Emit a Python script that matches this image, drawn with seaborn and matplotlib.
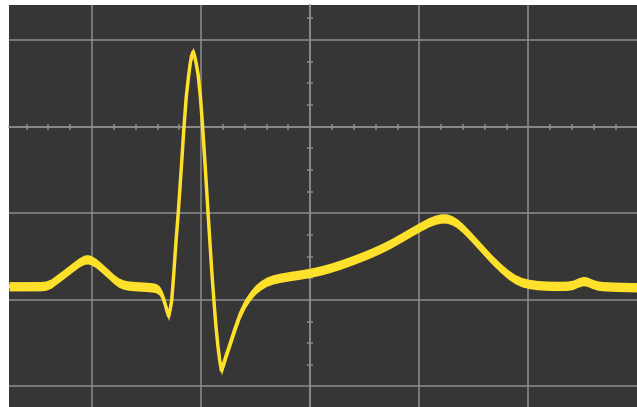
import matplotlib
matplotlib.use("Agg")
import matplotlib.pyplot as plt
from matplotlib.ticker import MultipleLocator, NullFormatter
import pandas as pd
import seaborn as sns

# ECG trace sampled on the scope graticule (units: screen divisions)
t_div = [-2.762, -2.615, -2.478, -2.422, -2.376, -2.331, -2.275, -2.220,
         -2.165, -2.119, -2.073, -2.043, -2.009, -1.963, -1.917, -1.862,
         -1.807, -1.761, -1.715, -1.669, -1.605, -1.513, -1.449, -1.412,
         -1.385, -1.362, -1.343, -1.325, -1.311, -1.299, -1.284, -1.270,
         -1.253, -1.232, -1.210, -1.183, -1.158, -1.137, -1.118, -1.103,
         -1.089, -1.075, -1.061, -1.045, -1.028, -1.008, -0.987, -0.962,
         -0.937, -0.904, -0.884, -0.866, -0.848, -0.831, -0.815, -0.797,
         -0.770, -0.733, -0.687, -0.641, -0.595, -0.549, -0.503, -0.457,
         -0.402, -0.338, -0.274, -0.182, -0.090, 0.002, 0.094, 0.186,
         0.278, 0.369, 0.461, 0.553, 0.645, 0.737, 0.828, 0.920,
         1.012, 1.085, 1.150, 1.205, 1.251, 1.297, 1.343, 1.398,
         1.471, 1.563, 1.655, 1.747, 1.811, 1.875, 1.939, 2.004,
         2.086, 2.178, 2.270, 2.353, 2.408, 2.454, 2.500, 2.536,
         2.582, 2.628, 2.683, 2.803, 3.005]
v_div = [-1.843, -1.843, -1.842, -1.835, -1.811, -1.768, -1.716, -1.663,
         -1.609, -1.566, -1.537, -1.531, -1.542, -1.577, -1.627, -1.689,
         -1.753, -1.797, -1.823, -1.835, -1.842, -1.849, -1.856, -1.866,
         -1.891, -1.938, -2.001, -2.076, -2.140, -2.186, -2.105, -2.001,
         -1.724, -1.343, -0.985, -0.488, -0.003, 0.343, 0.562, 0.712,
         0.816, 0.863, 0.816, 0.724, 0.597, 0.355, -0.003, -0.488,
         -1.000, -1.655, -2.001, -2.290, -2.521, -2.694, -2.815, -2.746,
         -2.636, -2.498, -2.319, -2.157, -2.036, -1.949, -1.881, -1.833,
         -1.791, -1.762, -1.744, -1.724, -1.707, -1.686, -1.661, -1.629,
         -1.592, -1.551, -1.507, -1.460, -1.408, -1.350, -1.285, -1.218,
         -1.152, -1.104, -1.073, -1.059, -1.061, -1.080, -1.114, -1.173,
         -1.268, -1.395, -1.522, -1.635, -1.704, -1.759, -1.796, -1.816,
         -1.830, -1.837, -1.839, -1.837, -1.826, -1.800, -1.783, -1.789,
         -1.814, -1.833, -1.842, -1.849, -1.855]

BG = "#363636"
GRID = "#8c8c8c"
TRACE = "#ffe02b"
GLOW = 0.054  # half-height of the persistence band, in divisions

sns.set_theme(style="dark", rc={
    "axes.facecolor": BG,
    "figure.facecolor": "white",
    "grid.color": GRID,
    "grid.linewidth": 1.1,
    "axes.edgecolor": GRID,
})

fig = plt.figure(figsize=(6.37, 4.07), dpi=100)
ax = fig.add_axes([9 / 637, 0, 628 / 637, 402 / 407])

df = pd.DataFrame({"t": t_div, "v": v_div})

# slow parts of the sweep look thicker: a vertical band around the trace
ax.fill_between(df["t"], df["v"] - GLOW, df["v"] + GLOW,
                color=TRACE, linewidth=0, zorder=3)
sns.lineplot(data=df, x="t", y="v", ax=ax, color=TRACE, linewidth=2.5,
             sort=False, estimator=None, zorder=4,
             solid_capstyle="round", solid_joinstyle="round")

ax.set_xlim(-2.762, 2.995)
ax.set_ylim(-3.237, 1.405)

# graticule: major grid plus centre axes carrying the fine subdivisions
ax.xaxis.set_major_locator(MultipleLocator(1))
ax.yaxis.set_major_locator(MultipleLocator(1))
ax.xaxis.set_minor_locator(MultipleLocator(0.2))
ax.yaxis.set_minor_locator(MultipleLocator(0.25))
ax.grid(True, which="major", color=GRID, linewidth=1.1)
ax.set_axisbelow(True)

for side in ("top", "right"):
    ax.spines[side].set_visible(False)
for side in ("left", "bottom"):
    ax.spines[side].set_position(("data", 0))
    ax.spines[side].set_color(GRID)
    ax.spines[side].set_linewidth(1.1)

ax.tick_params(which="major", length=0)
ax.tick_params(which="minor", length=5, width=1.1, direction="inout",
               color=GRID, bottom=True, left=True)
for axis in (ax.xaxis, ax.yaxis):
    axis.set_major_formatter(NullFormatter())
    axis.set_minor_formatter(NullFormatter())
ax.set_xlabel("")
ax.set_ylabel("")

fig.savefig("out.png", dpi=100)
